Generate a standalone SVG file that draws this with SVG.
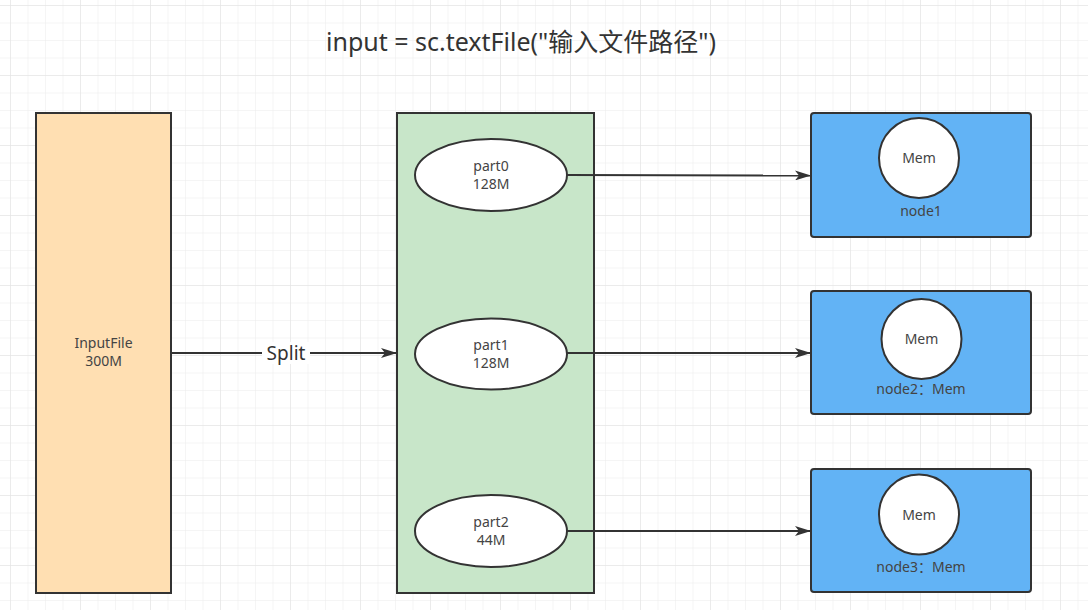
<svg xmlns="http://www.w3.org/2000/svg" width="1088" height="610" viewBox="0 0 1088 610">
<defs>
<pattern id="minor" x="10" y="5" width="17.5" height="17.5" patternUnits="userSpaceOnUse">
<path d="M0 0H17.5M0 0V17.5" fill="none" stroke="#ececec" stroke-width="1"/>
</pattern>
<pattern id="major" x="10" y="5" width="70" height="70" patternUnits="userSpaceOnUse">
<path d="M0 0H70M0 0V70" fill="none" stroke="#e2e2e2" stroke-width="1"/>
</pattern>
<marker id="arr" viewBox="0 0 16 10" refX="15" refY="5" markerWidth="16" markerHeight="10" markerUnits="userSpaceOnUse" orient="auto">
<path d="M0 0L16 5L0 10L4 5Z" fill="#333"/>
</marker>
</defs>
<style>
.t{font-family:"Noto Sans","Noto Sans CJK SC",sans-serif;fill:#333;text-anchor:middle}
.s{font-size:14px;fill:#444}
.box{stroke:#333;stroke-width:2}
.ell{fill:#fff;stroke:#333;stroke-width:2}
.blue{fill:#62b3f5;stroke:#333;stroke-width:2}
.line{fill:none;stroke:#333;stroke-width:2}
</style>
<rect width="1088" height="610" fill="#fff"/>
<rect width="1088" height="610" fill="url(#minor)"/>
<rect width="1088" height="610" fill="url(#major)"/>
<text class="t" x="521" y="51" font-size="25">input = sc.textFile("输入文件路径")</text>
<g id="inputfile">
<rect class="box" x="36" y="113" width="135" height="480" fill="#ffdfb2"/>
<text class="t s" x="103.5" y="348">InputFile</text>
<text class="t s" x="103.5" y="366">300M</text>
</g>
<g id="partitions">
<rect class="box" x="397" y="113" width="197" height="480" fill="#c8e6c9"/>
</g>
<g id="part0">
<ellipse class="ell" cx="491" cy="175" rx="76" ry="36"/>
<text class="t s" x="491" y="171">part0</text>
<text class="t s" x="491" y="189">128M</text>
</g>
<g id="part1">
<ellipse class="ell" cx="491" cy="354" rx="76" ry="35.5"/>
<text class="t s" x="491" y="350">part1</text>
<text class="t s" x="491" y="368">128M</text>
</g>
<g id="part2">
<ellipse class="ell" cx="491" cy="531" rx="76" ry="36"/>
<text class="t s" x="491" y="527">part2</text>
<text class="t s" x="491" y="545">44M</text>
</g>
<g id="node1">
<rect class="blue" x="811" y="113" width="220" height="124" rx="3"/>
<circle class="ell" cx="919" cy="158" r="40"/>
<text class="t s" x="919" y="163">Mem</text>
<text class="t s" x="921" y="216">node1</text>
</g>
<g id="node2">
<rect class="blue" x="811" y="291" width="220" height="123" rx="3"/>
<circle class="ell" cx="921.5" cy="339" r="40"/>
<text class="t s" x="921.5" y="344">Mem</text>
<text class="t s" x="921" y="394">node2：Mem</text>
</g>
<g id="node3">
<rect class="blue" x="811" y="469" width="220" height="123" rx="3"/>
<circle class="ell" cx="919" cy="514.5" r="40"/>
<text class="t s" x="919" y="520">Mem</text>
<text class="t s" x="921" y="572">node3：Mem</text>
</g>
<g id="connectors">
<path class="line" d="M172 353H396" marker-end="url(#arr)"/>
<rect x="262" y="342" width="48" height="22" fill="#fff"/>
<text class="t" x="286" y="360" font-size="19">Split</text>
<path class="line" d="M567 175L810 175.5" marker-end="url(#arr)"/>
<path class="line" d="M567 353H810" marker-end="url(#arr)"/>
<path class="line" d="M567 531H810" marker-end="url(#arr)"/>
</g>
</svg>
